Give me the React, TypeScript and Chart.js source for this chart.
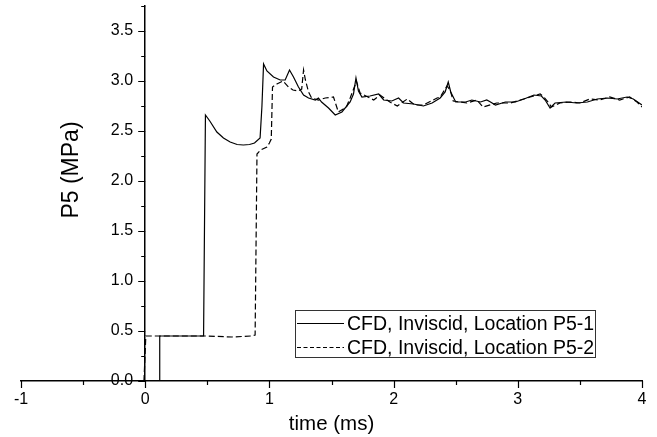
import React, { useEffect, useRef } from "react";
import { Chart, registerables } from "chart.js";

Chart.register(...registerables);

// ---- data ----
const seriesLabels = ["CFD, Inviscid, Location P5-1", "CFD, Inviscid, Location P5-2"];
const xTitle = "time (ms)";
const yTitle = "P5 (MPa)";

const xTicks = [-1, 0, 1, 2, 3, 4];
const xMinorTicks = [-0.5, 0.5, 1.5, 2.5, 3.5];
const yTicks = [0, 0.5, 1, 1.5, 2, 2.5, 3, 3.5];
const yMinorTicks = [0.25, 0.75, 1.25, 1.75, 2.25, 2.75, 3.25, 3.75];

const t1 = [0, 0.113, 0.117, 0.47, 0.485, 0.52, 0.577, 0.63, 0.684, 0.74, 0.79, 0.84, 0.88, 0.925, 0.94, 0.953, 0.98, 1.033, 1.087, 1.127, 1.162, 1.194, 1.234, 1.275, 1.315, 1.37, 1.395, 1.42, 1.476, 1.53, 1.584, 1.65, 1.677, 1.697, 1.717, 1.745, 1.81, 1.88, 1.92, 1.986, 2.04, 2.08, 2.16, 2.24, 2.31, 2.375, 2.415, 2.44, 2.46, 2.5, 2.58, 2.63, 2.7, 2.75, 2.78, 2.82, 2.9, 2.98, 3.05, 3.13, 3.19, 3.22, 3.26, 3.3, 3.39, 3.475, 3.56, 3.64, 3.72, 3.8, 3.88, 3.93, 4.0];
const p1 = [0, 0, 0.45, 0.45, 2.66, 2.6, 2.49, 2.43, 2.39, 2.365, 2.36, 2.365, 2.38, 2.43, 2.75, 3.17, 3.1, 3.04, 3.01, 3.01, 3.11, 3.04, 2.94, 2.86, 2.83, 2.81, 2.83, 2.79, 2.73, 2.66, 2.69, 2.79, 2.87, 3.03, 2.9, 2.84, 2.85, 2.87, 2.81, 2.8, 2.83, 2.78, 2.77, 2.75, 2.78, 2.83, 2.89, 2.99, 2.89, 2.79, 2.79, 2.81, 2.79, 2.81, 2.79, 2.76, 2.79, 2.79, 2.82, 2.86, 2.85, 2.81, 2.73, 2.78, 2.79, 2.78, 2.79, 2.82, 2.83, 2.82, 2.84, 2.82, 2.76];

const t2 = [-0.01, 0.005, 0.3, 0.5, 0.7, 0.85, 0.885, 0.9, 0.93, 0.98, 1.0, 1.015, 1.025, 1.06, 1.11, 1.154, 1.19, 1.23, 1.26, 1.275, 1.29, 1.315, 1.34, 1.395, 1.45, 1.516, 1.555, 1.62, 1.65, 1.69, 1.7, 1.73, 1.84, 1.89, 1.97, 2.03, 2.11, 2.17, 2.24, 2.35, 2.375, 2.43, 2.455, 2.48, 2.59, 2.67, 2.72, 2.83, 2.94, 3.02, 3.1, 3.18, 3.21, 3.25, 3.27, 3.34, 3.42, 3.5, 3.58, 3.66, 3.74, 3.82, 3.9, 3.96, 4.0];
const p2 = [0, 0.45, 0.45, 0.45, 0.44, 0.45, 0.46, 2.27, 2.31, 2.34, 2.38, 2.42, 2.94, 2.97, 3.0, 2.94, 2.91, 2.9, 2.92, 3.11, 3.01, 2.89, 2.83, 2.81, 2.83, 2.84, 2.69, 2.74, 2.83, 2.96, 3.0, 2.88, 2.81, 2.86, 2.79, 2.75, 2.82, 2.76, 2.76, 2.83, 2.84, 2.95, 2.91, 2.8, 2.78, 2.81, 2.74, 2.78, 2.78, 2.81, 2.84, 2.87, 2.84, 2.78, 2.74, 2.78, 2.79, 2.78, 2.82, 2.81, 2.84, 2.81, 2.84, 2.79, 2.74];

const FONT = "'Liberation Sans', Arial, Helvetica, sans-serif";
const DASH = [6, 3];
// gap between the y tick labels and the axis line (labels are right-aligned on the axis)
const Y_LABEL_GAP = "  \u2009";

const decorPlugin = {
  id: "decor",
  afterDraw(chart: any) {
    const ctx = chart.ctx;
    const xs = chart.scales.x;
    const ys = chart.scales.y;
    const x0 = xs.getPixelForValue(0);
    const yb = ys.getPixelForValue(0);
    ctx.save();
    ctx.strokeStyle = "#000";
    ctx.lineWidth = 1.2;
    ctx.beginPath();
    xTicks.forEach((v) => {
      const px = Math.round(xs.getPixelForValue(v)) + 0.5;
      ctx.moveTo(px, yb);
      ctx.lineTo(px, yb + 7);
    });
    xMinorTicks.forEach((v) => {
      const px = Math.round(xs.getPixelForValue(v)) + 0.5;
      ctx.moveTo(px, yb);
      ctx.lineTo(px, yb + 4);
    });
    yTicks.forEach((v) => {
      const py = Math.round(ys.getPixelForValue(v)) + 0.5;
      ctx.moveTo(x0, py);
      ctx.lineTo(x0 - 7, py);
    });
    yMinorTicks.forEach((v) => {
      const py = Math.round(ys.getPixelForValue(v)) + 0.5;
      ctx.moveTo(x0, py);
      ctx.lineTo(x0 - 4, py);
    });
    ctx.stroke();

    // y title
    ctx.save();
    ctx.translate(72, 170);
    ctx.rotate(-Math.PI / 2);
    ctx.fillStyle = "#000";
    ctx.font = `23px ${FONT}`;
    ctx.textAlign = "center";
    ctx.textBaseline = "middle";
    ctx.fillText(yTitle, 0, 0);
    ctx.restore();

    // legend
    const lx = 295.5, ly = 310.5, lw = 300, lh = 47;
    ctx.fillStyle = "#fff";
    ctx.fillRect(lx, ly, lw, lh);
    ctx.strokeStyle = "#333";
    ctx.lineWidth = 1;
    ctx.strokeRect(lx, ly, lw, lh);
    const rows = [323.5, 347.5];
    ctx.font = `19.5px ${FONT}`;
    ctx.textAlign = "left";
    ctx.textBaseline = "middle";
    rows.forEach((ry, i) => {
      ctx.beginPath();
      ctx.strokeStyle = "#000";
      ctx.lineWidth = 1.2;
      ctx.setLineDash(i === 0 ? [] : [4, 2.5]);
      ctx.moveTo(297, ry);
      ctx.lineTo(344, ry);
      ctx.stroke();
      ctx.setLineDash([]);
      ctx.fillStyle = "#000";
      ctx.fillText(seriesLabels[i], 347, ry + 1);
    });
    ctx.restore();
  },
};

export default function App() {
  const ref = useRef<HTMLCanvasElement | null>(null);
  useEffect(() => {
    if (!ref.current) return;
    const chart = new Chart(ref.current, {
      type: "scatter",
      data: {
        datasets: [
          {
            label: seriesLabels[0],
            data: t1.map((t, i) => ({ x: t, y: p1[i] })),
            showLine: true,
            borderColor: "#000",
            borderWidth: 1.2,
            pointRadius: 0,
            tension: 0,
          },
          {
            label: seriesLabels[1],
            data: t2.map((t, i) => ({ x: t, y: p2[i] })),
            showLine: true,
            borderColor: "#000",
            borderWidth: 1.2,
            borderDash: DASH,
            pointRadius: 0,
            tension: 0,
          },
        ],
      },
      options: {
        responsive: false,
        animation: false,
        layout: { padding: { left: 21, right: 15, top: 6, bottom: 0 } },
        plugins: { legend: { display: false }, tooltip: { enabled: false } },
        scales: {
          x: {
            type: "linear",
            min: -1,
            max: 4,
            position: "bottom",
            afterBuildTicks: (s: any) => {
              s.ticks = xTicks.map((v) => ({ value: v }));
            },
            afterFit: (s: any) => {
              s.paddingLeft = 0;
              s.paddingRight = 0;
              s.height = 56;
            },
            grid: { display: true, drawOnChartArea: false, drawTicks: false },
            border: { display: true, color: "#000", width: 1.5 },
            ticks: {
              color: "#000",
              font: { family: FONT, size: 16 },
              padding: 9,
              maxRotation: 0,
              callback: (v: any) => String(v),
            },
            title: {
              display: true,
              text: xTitle,
              color: "#000",
              font: { family: FONT, size: 20.5 },
              padding: { top: 0, bottom: 0 },
            },
          },
          y: {
            type: "linear",
            min: 0,
            max: 3.75,
            position: { x: 0 } as any,
            afterBuildTicks: (s: any) => {
              s.ticks = yTicks.map((v) => ({ value: v }));
            },
            afterFit: (s: any) => {
              s.paddingTop = 0;
              s.paddingBottom = 0;
            },
            grid: { display: true, drawOnChartArea: false, drawTicks: false },
            border: { display: true, color: "#000", width: 1.5 },
            ticks: {
              color: "#000",
              font: { family: FONT, size: 16 },
              padding: 12,
              callback: (v: any) => Number(v).toFixed(1) + Y_LABEL_GAP,
            },
          },
        },
      },
      plugins: [decorPlugin],
    });
    return () => chart.destroy();
  }, []);
  return (
    <canvas
      ref={ref}
      width={657}
      height={437}
      style={{ position: "absolute", left: 0, top: 0, width: 657, height: 437 }}
    />
  );
}
